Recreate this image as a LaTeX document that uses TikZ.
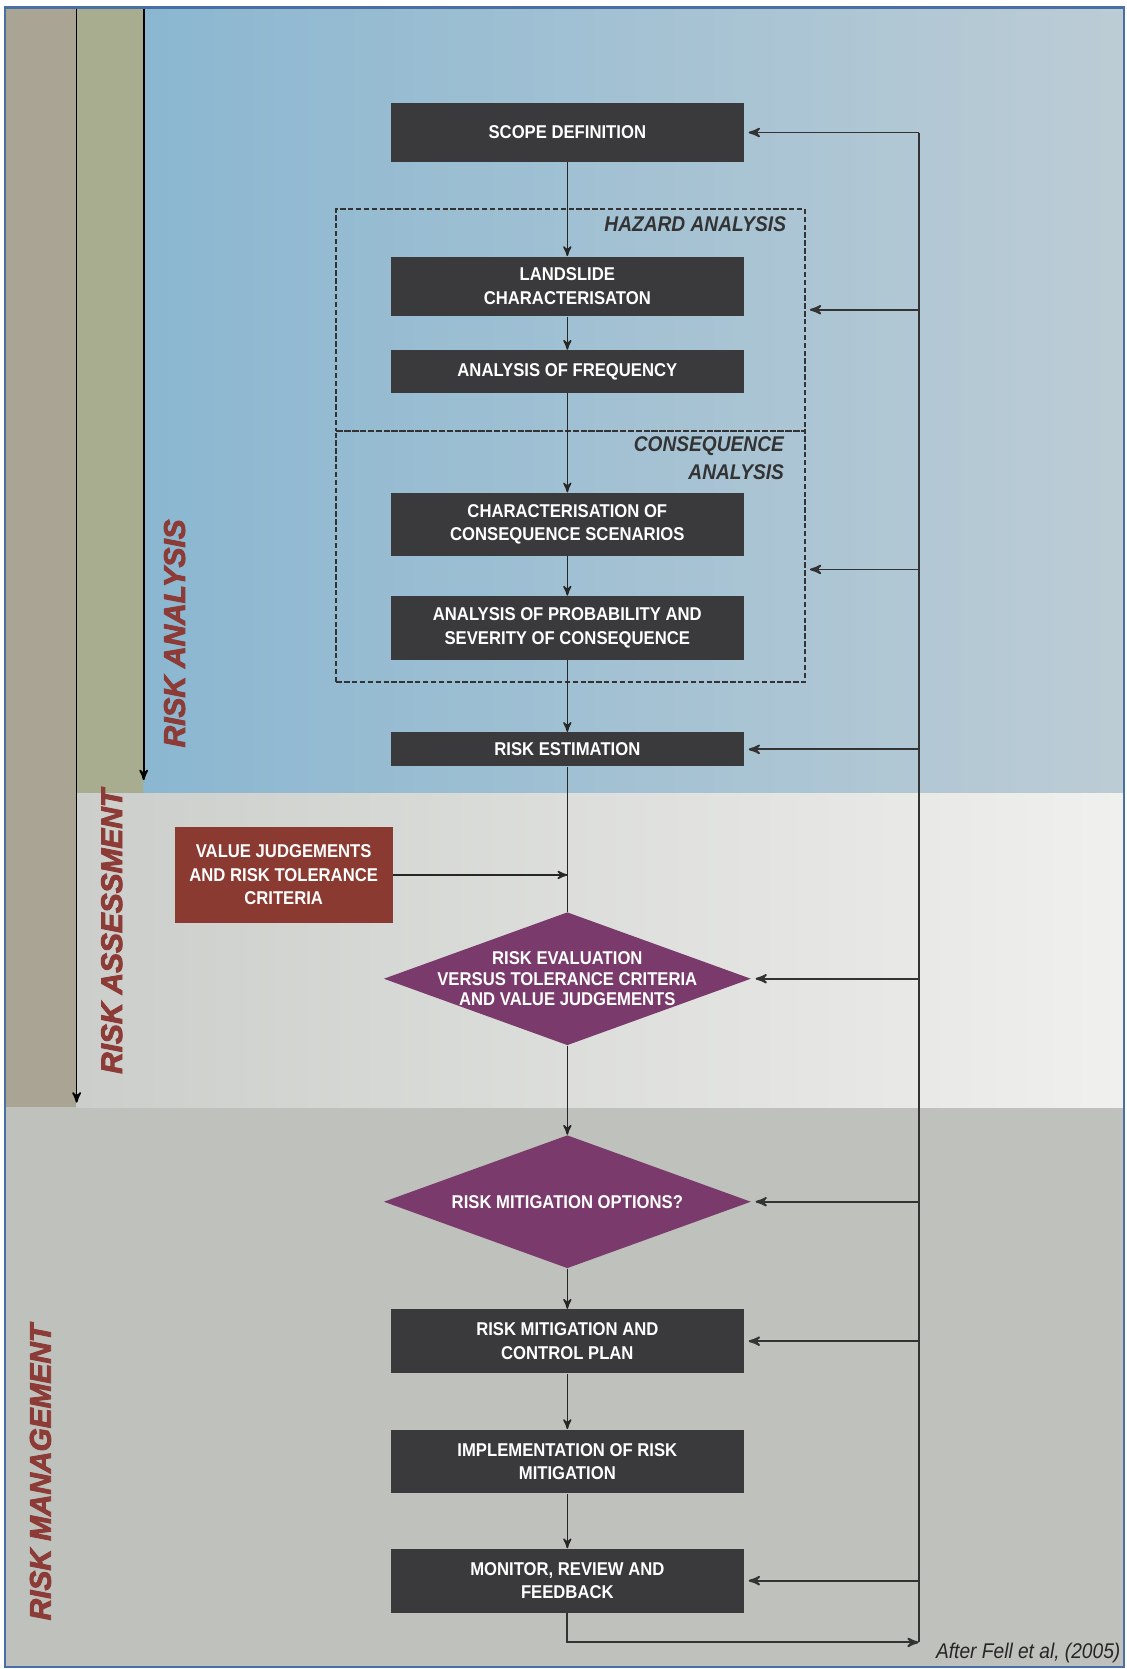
\documentclass[tikz,border=0pt]{standalone}
\usepackage{fontspec}
\setmainfont{Liberation Sans}
\newfontfamily\narrowfont[FakeStretch=0.9]{Liberation Sans}
\newfontfamily\heavyfont[FakeBold=3]{Liberation Sans}
\usetikzlibrary{shapes.geometric,arrows,positioning}

\definecolor{boxgray}{HTML}{3A3A3C}
\definecolor{diapurple}{HTML}{7A3A6B}
\definecolor{valred}{HTML}{8A3A30}
\definecolor{bandred}{HTML}{8C3B36}
\definecolor{zonegray}{HTML}{333333}
\definecolor{mgmtgray}{HTML}{BFC1BC}
\definecolor{assgray}{HTML}{CBCECA}
\definecolor{assright}{HTML}{F0F0EE}
\definecolor{tanband}{HTML}{A9A493}
\definecolor{olivband}{HTML}{A8AD8F}
\definecolor{skyblue}{HTML}{8BB7D1}
\definecolor{paleblue}{HTML}{BCCCD5}
\definecolor{frameblue}{HTML}{4A6FA5}

\begin{document}
\begin{tikzpicture}[%
    x=0.5pt, y=-0.5pt,          % measured in pixels, y running downwards
    >=stealth',                 % small sharp arrow tips
    node distance=20pt,
    ]
% -------------------------------------------------
% Box, diamond and line styles
\tikzset{
  txt/.style={align=center, text=white, inner sep=0pt,
    font=\narrowfont\bfseries\fontsize{8.7}{11}\selectfont},
  box/.style={txt, on grid, rectangle, fill=boxgray, minimum width=166pt},
  decision/.style={on grid, diamond, fill=diapurple, inner sep=0pt,
    minimum width=172.5pt, minimum height=62.5pt},
  dtext/.style={txt, font=\narrowfont\bfseries\fontsize{8.7}{9.5}\selectfont},
  valbox/.style={txt, fill=valred, minimum width=102.5pt, minimum height=45pt},
  zone/.style={draw=zonegray, dash pattern=on 2.5pt off 1.2pt, line width=0.9pt,
    minimum width=220pt},
  zonelabel/.style={text=zonegray, inner sep=0pt,
    font=\narrowfont\bfseries\itshape\fontsize{10}{13}\selectfont},
  stagelabel/.style={rotate=90, text=bandred,
    font=\heavyfont\bfseries\itshape\fontsize{14}{16}\selectfont},
  source/.style={text=black!85, font=\narrowfont\itshape\fontsize{10}{12}\selectfont},
  flow/.style={->, line width=0.7pt, black!85},
  link/.style={line width=0.7pt, black!85},
  stage/.style={->, line width=0.8pt, black},
  loopline/.style={line width=0.9pt, black!80},
  fbarrow/.style={loopline, ->, shorten >=2pt},
}
\useasboundingbox (0,0) rectangle (1058,1568);
% -------------------------------------------------
% Backgrounds of the three stages
\fill[white] (0,0) rectangle (1058,1568);
\fill[mgmtgray] (5,7) rectangle (1056,1566);
\fill[tanband] (5,7) rectangle (72,1040);
\shade[left color=assgray, right color=assright] (72,7) rectangle (1056,1040);
\fill[olivband] (72,7) rectangle (135,745);
\shade[left color=skyblue, right color=paleblue] (135,7) rectangle (1056,745);
\draw[frameblue, line width=1pt] (5,7) rectangle (1056,1566);

\coordinate (asstop) at (72,8);
\coordinate (assbot) at (72,1036);
\coordinate (anatop) at (135,8);
\coordinate (anabot) at (135,733);
\draw[stage] (asstop) -- (assbot);
\draw[stage] (anatop) -- (anabot);

\node[stagelabel] (analbl) at (164,595) {RISK ANALYSIS};
\node[stagelabel] (asslbl) at (105,875) {RISK ASSESSMENT};
\node[stagelabel] (mgmtlbl) at (38,1383) {RISK MANAGEMENT};

% -------------------------------------------------
% Dashed zones
\node[zone, minimum height=104.5pt] (haz) at (536,300.5) {};
\node[zone, minimum height=118pt] (conz) at (536,523) {};
\node[zonelabel, anchor=north east] (hazlbl)
  at ([xshift=-9pt,yshift=-4pt]haz.north east) {HAZARD ANALYSIS};
\node[zonelabel, anchor=north east, align=right] (conlbl)
  at ([xshift=-10pt,yshift=-3pt]conz.north east) {CONSEQUENCE\\ANALYSIS};

% -------------------------------------------------
% Main column of steps
\node[box, minimum height=27.5pt] (scope) at (533,124.5) {SCOPE DEFINITION};
\node[box, minimum height=28pt, below=72.25pt of scope] (land) {LANDSLIDE\\CHARACTERISATON};
\node[box, minimum height=20pt, below=40pt of land] (freq) {ANALYSIS OF FREQUENCY};
\node[box, minimum height=29.5pt, below=71.75pt of freq] (cons) {CHARACTERISATION OF\\CONSEQUENCE SCENARIOS};
\node[box, minimum height=30pt, below=48.75pt of cons] (prob) {ANALYSIS OF PROBABILITY AND\\SEVERITY OF CONSEQUENCE};
\node[box, minimum height=16pt, below=57pt of prob] (est) {RISK ESTIMATION};
\node[decision, below=107.75pt of est] (eval) {};
\node[dtext] (evaltxt) at (eval) {RISK EVALUATION\\VERSUS TOLERANCE CRITERIA\\AND VALUE JUDGEMENTS};
\node[decision, below=104.75pt of eval] (opt) {};
\node[dtext] (opttxt) at (opt) {RISK MITIGATION OPTIONS?};
\node[box, minimum height=30pt, below=65.5pt of opt] (plan) {RISK MITIGATION AND\\CONTROL PLAN};
\node[box, minimum height=30pt, below=56.5pt of plan] (impl) {IMPLEMENTATION OF RISK\\MITIGATION};
\node[box, minimum height=30pt, below=56pt of impl] (mon) {MONITOR, REVIEW AND\\FEEDBACK};

\node[valbox] (value) at (266.5,822) {VALUE JUDGEMENTS\\AND RISK TOLERANCE\\CRITERIA};

\node[source] (src) at (966,1553) {After Fell et al, (2005)};

% -------------------------------------------------
% Connectors
\draw[flow] (scope) -- (land);
\draw[flow] (land) -- (freq);
\draw[flow] (freq) -- (cons);
\draw[flow] (cons) -- (prob);
\draw[flow] (prob) -- (est);
\draw[link] (est) -- (eval);
\draw[flow] (value.east) -- (value.east -| est.south);
\draw[flow] (eval) -- (opt);
\draw[flow] (opt) -- (plan);
\draw[flow] (plan) -- (impl);
\draw[flow] (impl) -- (mon);

% feedback loop on the right
\coordinate (fb) at (863,125);
\coordinate (fbend) at (863,1543);
\draw[loopline] (fbend) -- (fb);
\draw[loopline, ->] (mon.south) |- (fbend);
\foreach \n in {scope,est,eval,opt,plan,mon}
  \draw[fbarrow] (\n.east -| fb) -- (\n.east);
\draw[fbarrow] ([yshift=4.75pt]haz.east -| fb) -- ([yshift=4.75pt]haz.east);
\draw[fbarrow] ([yshift=-6pt]conz.east -| fb) -- ([yshift=-6pt]conz.east);
% -------------------------------------------------
\end{tikzpicture}
\end{document}
